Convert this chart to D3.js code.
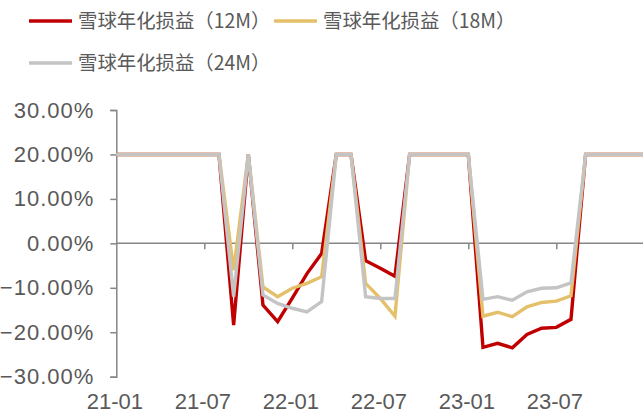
<!DOCTYPE html>
<meta charset="utf-8">
<style>
body { margin: 0; background: #fff; }
svg { display: block; }
.ytick text { font-family: "Liberation Sans", Arial, sans-serif; font-size: 22px; fill: #595959; letter-spacing: 1px; }
.xlab text { font-family: "Liberation Sans", Arial, sans-serif; font-size: 22px; fill: #595959; }
.legend text { font-family: "Noto Sans CJK SC", sans-serif; font-size: 19.4px; fill: #595959; }
.line { fill: none; stroke-width: 3.4px; stroke-linejoin: miter; }
</style>
<body>
<script src="https://d3js.org/d3.v7.min.js"></script>
<script>

// months 21-01 .. 24-01
var months = [];
for (var yy = 21; yy <= 24; yy++) {
  for (var mm = 1; mm <= 12; mm++) {
    if (yy == 24 && mm > 1) break;
    months.push(yy + "-" + (mm < 10 ? "0" + mm : mm));
  }
}

var tickLabels = ["21-01", "21-07", "22-01", "22-07", "23-01", "23-07"];
var yTicks = [0.3, 0.2, 0.1, 0, -0.1, -0.2, -0.3];

// values in %
var s12 = [20,20,20,20,20,20,20,20,-18.4,20,-13.9,-17.6,-12.3,-6.8,-2.3,20,20,-3.9,-5.6,-7.4,
  20,20,20,20,20,-23.4,-22.5,-23.5,-20.5,-19.1,-18.9,-17.1,20,20,20,20,20];
var s18 = [20,20,20,20,20,20,20,20,-6,20,-9.8,-12,-10.1,-9,-7.5,20,20,-9,-12.4,-16.4,
  20,20,20,20,20,-16.4,-15.5,-16.5,-14.3,-13.3,-13,-11.8,20,20,20,20,20];
var s24 = [20,20,20,20,20,20,20,20,-12,20,-11.6,-13.5,-14.6,-15.4,-13.1,20,20,-12,-12.4,-12.4,
  20,20,20,20,20,-12.6,-12,-12.8,-10.9,-10.1,-10,-8.9,20,20,20,20,20];

var seriesNames = ["雪球年化损益（12M）", "雪球年化损益（18M）", "雪球年化损益（24M）"];
var colors = ["#C00000", "#E5C06A", "#C4C4C4"];

var width = 643, height = 418;

var svg = d3.select("body").append("svg")
    .attr("width", width)
    .attr("height", height);

var x = d3.scalePoint().domain(months).range([116.3, 644.3]);
var y = d3.scaleLinear().domain([-0.3, 0.3]).range([376.7, 110]);

// y axis
var yAxis = svg.append("g")
    .attr("class", "ytick")
    .attr("transform", "translate(116.3,0)")
    .call(d3.axisLeft(y).tickValues(yTicks).tickSize(6).tickPadding(16)
      .tickFormat(function(d) { return d3.format(".2f")(d * 100) + "%"; }));
yAxis.select(".domain").attr("stroke", "#868686").attr("stroke-width", 1.5);
yAxis.selectAll(".tick line").attr("stroke", "#868686").attr("stroke-width", 1.5);

// x axis at zero
var xAxis = svg.append("g")
    .attr("transform", "translate(0," + y(0) + ")")
    .call(d3.axisBottom(x).tickValues(tickLabels.slice(1)).tickSize(6).tickFormat(""));
xAxis.select(".domain").attr("d", "M" + x(months[0]) + ",0H" + width)
    .attr("stroke", "#868686").attr("stroke-width", 1.5);
xAxis.selectAll(".tick line").attr("stroke", "#868686").attr("stroke-width", 1.5);

// x labels at bottom
var xLab = svg.append("g")
    .attr("class", "xlab")
    .attr("transform", "translate(-2,393)")
    .call(d3.axisBottom(x).tickValues(tickLabels).tickSize(0).tickPadding(0));
xLab.select(".domain").remove();

// lines
var line = d3.line()
    .x(function(d, i) { return x(months[i]); })
    .y(function(d) { return y(d / 100); });

[s12, s18, s24].forEach(function(s, i) {
  svg.append("path")
    .datum(s)
    .attr("class", "line")
    .attr("stroke", colors[i])
    .attr("d", line);
});

// legend
var legendPos = [[29, 21], [274, 21], [29, 63]];
var legend = svg.append("g").attr("class", "legend");
seriesNames.forEach(function(name, i) {
  var p = legendPos[i];
  legend.append("line")
    .attr("x1", p[0]).attr("x2", p[0] + 43)
    .attr("y1", p[1]).attr("y2", p[1])
    .attr("stroke", colors[i])
    .attr("stroke-width", 3.5);
  legend.append("text")
    .attr("x", p[0] + 49)
    .attr("y", p[1])
    .attr("dy", "0.35em")
    .text(name);
});

</script>
</body>
